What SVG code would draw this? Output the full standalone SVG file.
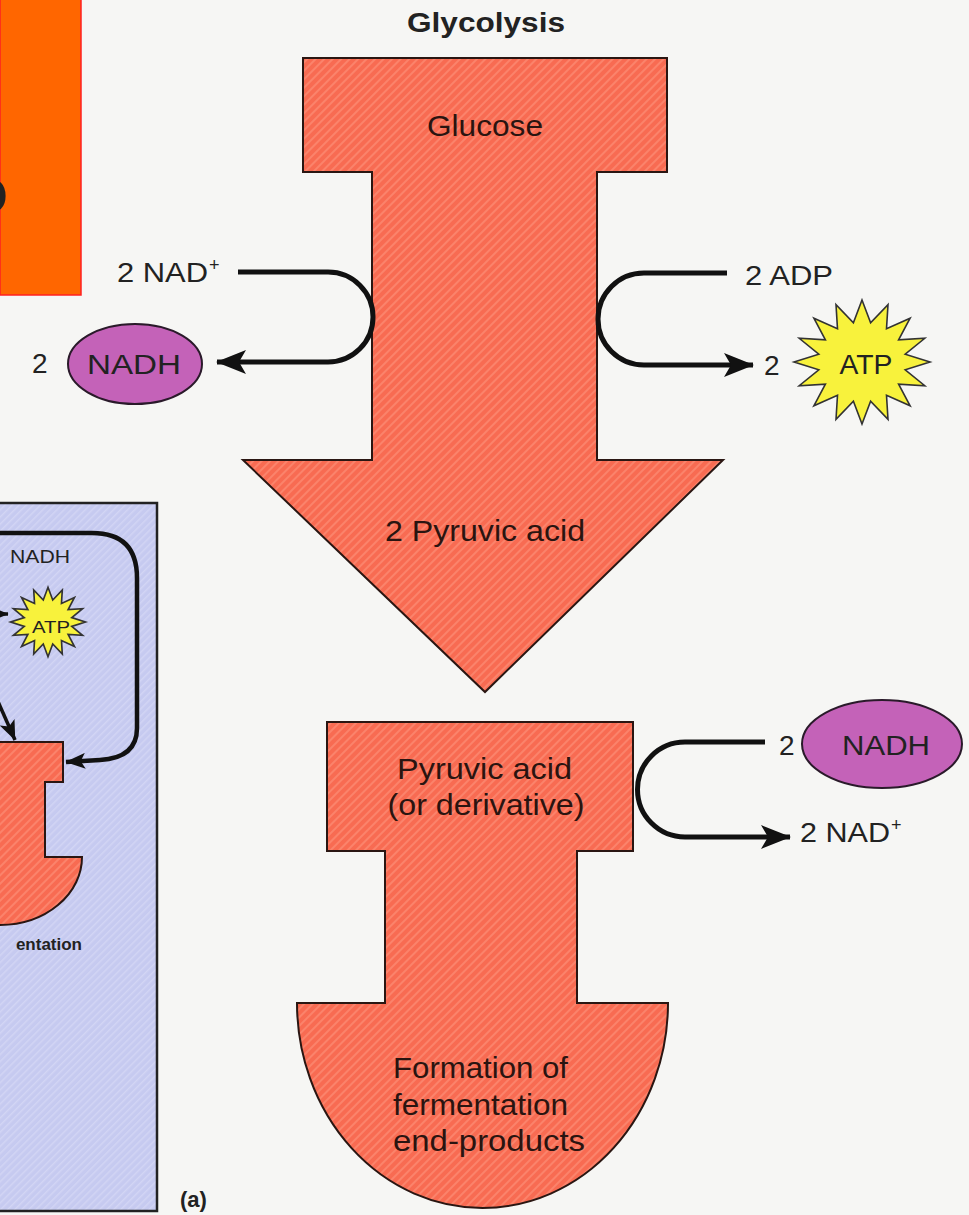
<svg xmlns="http://www.w3.org/2000/svg" width="969" height="1215" viewBox="0 0 969 1215">
  <defs>
    <style>
      .lbl { font-family: "Liberation Sans", Arial, sans-serif; fill: #222; }
      .in { font-family: "Liberation Sans", Arial, sans-serif; fill: #2a1410; font-size: 29px; text-anchor: middle; }
      .flow { fill: url(#hatch); stroke: #2a1612; stroke-width: 2; stroke-linejoin: miter; }
      .conn { fill: none; stroke: #111; stroke-width: 5; }
      .nadh { fill: #c462b8; stroke: #2a1a2a; stroke-width: 2; }
      .star { fill: #f8f23c; stroke: #333; stroke-linejoin: miter; }
    </style>
    <pattern id="hatch" width="6" height="6" patternUnits="userSpaceOnUse" patternTransform="rotate(45)">
      <rect width="6" height="6" fill="#f86b52"/>
      <rect width="2" height="6" fill="#fb836b"/>
    </pattern>
    <pattern id="panelTex" width="5" height="5" patternUnits="userSpaceOnUse" patternTransform="rotate(45)">
      <rect width="5" height="5" fill="#c6caf0"/>
      <rect width="1.5" height="5" fill="#d2d5f4"/>
    </pattern>
    <marker id="ah" viewBox="0 0 30 24" refX="29" refY="12" markerWidth="30" markerHeight="24" markerUnits="userSpaceOnUse" orient="auto">
      <path d="M0,0 L30,12 L0,24 L7,12 Z" fill="#111"/>
    </marker>
    <marker id="ahs" viewBox="0 0 30 24" refX="29" refY="12" markerWidth="20" markerHeight="16" markerUnits="userSpaceOnUse" orient="auto">
      <path d="M0,0 L30,12 L0,24 L7,12 Z" fill="#111"/>
    </marker>
    <path id="burst" d="M0,-62 L8.6,-39.2 L26,-57.3 L24.5,-33.2 L48.1,-43.8 L36.6,-22.2 L62.8,-23.7 L43.2,-7.8 L68,0 L43.2,7.8 L62.8,23.7 L36.6,22.2 L48.1,43.8 L24.5,33.2 L26,57.3 L8.6,39.2 L0,62 L-8.6,39.2 L-26,57.3 L-24.5,33.2 L-48.1,43.8 L-36.6,22.2 L-62.8,23.7 L-43.2,7.8 L-68,0 L-43.2,-7.8 L-62.8,-23.7 L-36.6,-22.2 L-48.1,-43.8 L-24.5,-33.2 L-26,-57.3 L-8.6,-39.2 Z"/>
  </defs>

  <!-- page -->
  <rect x="0" y="0" width="969" height="1215" fill="#f6f6f4"/>

  <!-- orange title block (cut at the left edge) -->
  <g id="title-block">
    <rect x="0" y="-1" width="81" height="296" fill="#ff6600" stroke="#ff2020" stroke-width="1.5"/>
    <text x="-31" y="213" class="lbl" font-size="64" font-weight="bold" fill="#000">o</text>
  </g>

  <!-- side panel: fermentation overview -->
  <g id="side-panel">
    <rect x="-3" y="503" width="160" height="708" fill="url(#panelTex)" stroke="#222" stroke-width="2.5"/>
    <path class="flow" d="M-10,742 H63 V782 H45 V857 H82 A82,68 0 0 1 0,925 L-10,925 Z"/>
    <text x="40" y="563" class="lbl" font-size="18" text-anchor="middle" textLength="60" lengthAdjust="spacingAndGlyphs" fill="#2b2d52">NADH</text>
    <use href="#burst" transform="translate(48,622) scale(0.55,0.56)" class="star" style="stroke-width:3"/>
    <text x="51" y="633" class="lbl" font-size="16" text-anchor="middle" textLength="38" lengthAdjust="spacingAndGlyphs" fill="#2a2a10">ATP</text>
    <text x="82" y="950" class="lbl" font-size="17" font-weight="bold" text-anchor="end" fill="#1a1a2a">entation</text>
  </g>

  <!-- glycolysis arrow -->
  <g id="glycolysis">
    <text x="486" y="32" class="lbl" font-size="27" font-weight="bold" text-anchor="middle" textLength="158" lengthAdjust="spacingAndGlyphs" fill="#111">Glycolysis</text>
    <path class="flow" d="M303,58 H667 V172 H597 V460 H723 L485,692 L243,460 H372 V172 H303 Z"/>
    <text x="485" y="136" class="in" textLength="116" lengthAdjust="spacingAndGlyphs">Glucose</text>
    <text x="485" y="541" class="in" textLength="200" lengthAdjust="spacingAndGlyphs">2 Pyruvic acid</text>
  </g>

  <!-- fermentation step -->
  <g id="fermentation">
    <path class="flow" d="M327,722 H633 V851 H577 V1003 H668 A185.5,205 0 0 1 297,1003 H385 V851 H327 Z"/>
    <text x="484.5" y="779" class="in" textLength="175" lengthAdjust="spacingAndGlyphs">Pyruvic acid</text>
    <text x="486" y="815" class="in" textLength="197" lengthAdjust="spacingAndGlyphs">(or derivative)</text>
    <text x="393" y="1078" class="in" style="text-anchor:start" textLength="175" lengthAdjust="spacingAndGlyphs">Formation of</text>
    <text x="393" y="1115" class="in" style="text-anchor:start" textLength="175" lengthAdjust="spacingAndGlyphs">fermentation</text>
    <text x="393" y="1151" class="in" style="text-anchor:start" textLength="192" lengthAdjust="spacingAndGlyphs">end-products</text>
  </g>

  <!-- cofactors -->
  <g id="nad-in-top">
    <text x="117" y="282" class="lbl" font-size="27" textLength="91" lengthAdjust="spacingAndGlyphs">2 NAD</text>
    <text x="209" y="271" class="lbl" font-size="18">+</text>
  </g>
  <g id="nadh-left">
    <text x="32" y="373" class="lbl" font-size="28">2</text>
    <ellipse cx="135" cy="364" rx="67" ry="40" class="nadh"/>
    <text x="134" y="374" class="lbl" font-size="28" text-anchor="middle" textLength="94" lengthAdjust="spacingAndGlyphs" fill="#1a0e1a">NADH</text>
  </g>
  <g id="adp-in">
    <text x="745" y="285" class="lbl" font-size="27" textLength="88" lengthAdjust="spacingAndGlyphs">2 ADP</text>
  </g>
  <g id="atp-out">
    <text x="764" y="375" class="lbl" font-size="28">2</text>
    <use href="#burst" transform="translate(862,362)" class="star" style="stroke-width:1.6"/>
    <text x="866" y="374" class="lbl" font-size="27" text-anchor="middle" textLength="53" lengthAdjust="spacingAndGlyphs" fill="#1a1a0a">ATP</text>
  </g>
  <g id="nadh-right">
    <text x="779" y="755" class="lbl" font-size="28">2</text>
    <ellipse cx="882" cy="744" rx="80" ry="44" class="nadh"/>
    <text x="886" y="755" class="lbl" font-size="28" text-anchor="middle" textLength="88" lengthAdjust="spacingAndGlyphs" fill="#1a0e1a">NADH</text>
  </g>
  <g id="nad-out-bottom">
    <text x="800" y="842" class="lbl" font-size="27" textLength="90" lengthAdjust="spacingAndGlyphs">2 NAD</text>
    <text x="891" y="831" class="lbl" font-size="18">+</text>
  </g>

  <text x="180" y="1207" class="lbl" font-size="22" font-weight="bold" fill="#111">(a)</text>

  <!-- connectors -->
  <g id="connectors">
    <path class="conn" d="M238,272 H328 A45,45 0 0 1 328,362 H217" marker-end="url(#ah)"/>
    <path class="conn" d="M727,273 H644 A46,46 0 0 0 644,365 H753" marker-end="url(#ah)"/>
    <path class="conn" d="M765,742 H685 A47.5,47.5 0 0 0 685,837 H790" marker-end="url(#ah)"/>
    <path class="conn" d="M-4,533 H92 Q137,533 137,578 V728 Q137,758 100,760 L66,762" marker-end="url(#ahs)" style="stroke-width:4.5"/>
    <path class="conn" d="M-12,614 H8" marker-end="url(#ahs)" style="stroke-width:3.5"/>
    <path class="conn" d="M-8,688 L15,740" marker-end="url(#ahs)" style="stroke-width:3.5"/>
  </g>
</svg>
